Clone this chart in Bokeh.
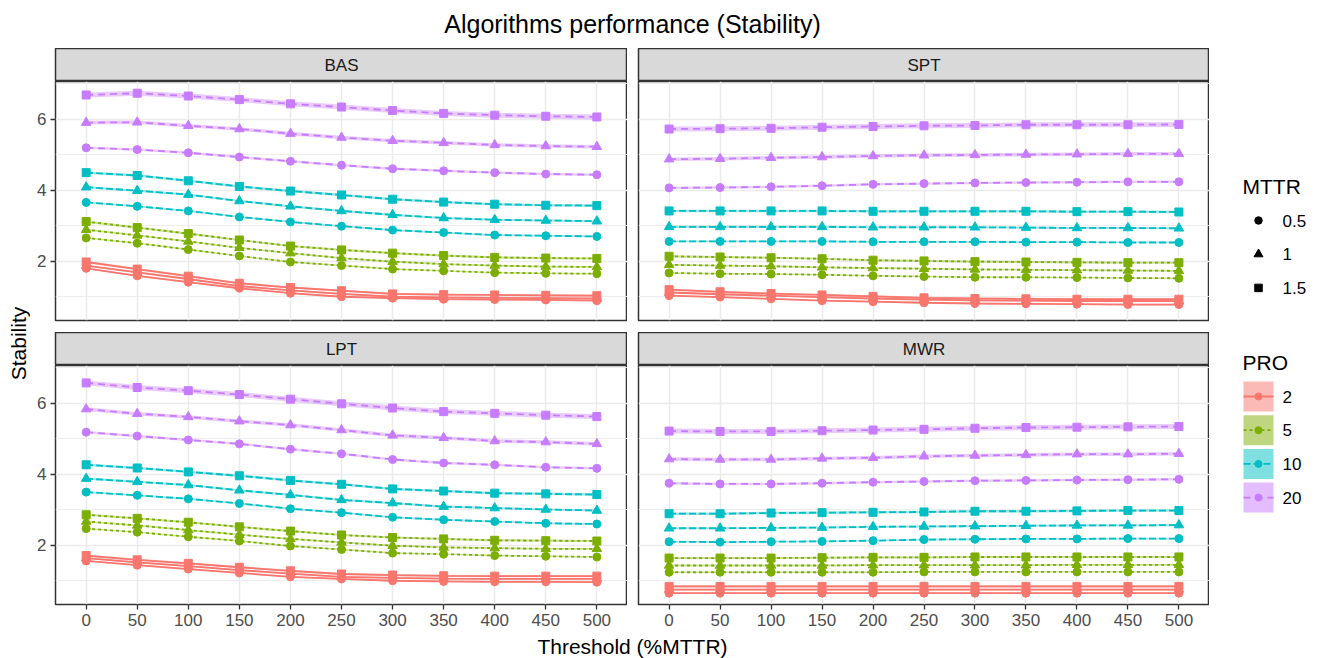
import numpy as np
from bokeh.plotting import figure
from bokeh.layouts import row, column
from bokeh.models import Range1d, FixedTicker
from bokeh.embed import file_html
from bokeh.resources import INLINE
from bokeh.core.properties import value

# ---------------- data ----------------
THRESHOLDS = [0, 50, 100, 150, 200, 250, 300, 350, 400, 450, 500]
Y_TICKS = [2, 4, 6]
Y_MINOR = [1, 3, 5, 7]
ALGORITHMS = ["BAS", "SPT", "LPT", "MWR"]
PRO_LEVELS = [2, 5, 10, 20]
PRO_LABELS = ["2", "5", "10", "20"]
MTTR_LEVELS = [0.5, 1, 1.5]
MTTR_LABELS = ["0.5", "1", "1.5"]

BAS = {
    20: {1.5: [6.69, 6.74, 6.66, 6.56, 6.44, 6.35, 6.25, 6.17, 6.12, 6.09, 6.07],
         1:   [5.91, 5.92, 5.82, 5.73, 5.60, 5.49, 5.40, 5.34, 5.28, 5.25, 5.23],
         0.5: [5.20, 5.15, 5.06, 4.94, 4.82, 4.71, 4.61, 4.55, 4.50, 4.46, 4.44]},
    10: {1.5: [4.50, 4.42, 4.27, 4.11, 3.98, 3.87, 3.75, 3.67, 3.61, 3.58, 3.57],
         1:   [4.09, 3.99, 3.88, 3.70, 3.55, 3.42, 3.31, 3.22, 3.17, 3.15, 3.13],
         0.5: [3.66, 3.55, 3.42, 3.25, 3.11, 2.99, 2.88, 2.81, 2.74, 2.72, 2.70]},
    5:  {1.5: [3.12, 2.95, 2.78, 2.60, 2.43, 2.32, 2.23, 2.16, 2.11, 2.09, 2.08],
         1:   [2.89, 2.73, 2.56, 2.38, 2.23, 2.09, 1.99, 1.92, 1.88, 1.85, 1.84],
         0.5: [2.66, 2.51, 2.33, 2.15, 1.98, 1.88, 1.78, 1.73, 1.68, 1.66, 1.65]},
    2:  {1.5: [1.98, 1.78, 1.58, 1.38, 1.26, 1.17, 1.08, 1.06, 1.05, 1.04, 1.03],
         1:   [1.88, 1.69, 1.50, 1.30, 1.18, 1.08, 1.00, 0.98, 0.97, 0.96, 0.95],
         0.5: [1.80, 1.59, 1.41, 1.24, 1.10, 1.00, 0.96, 0.93, 0.92, 0.91, 0.89]},
}
SPT = {
    20: {1.5: [5.73, 5.74, 5.75, 5.78, 5.80, 5.82, 5.83, 5.85, 5.85, 5.85, 5.86],
         1:   [4.88, 4.89, 4.92, 4.94, 4.97, 4.99, 5.00, 5.01, 5.02, 5.03, 5.03],
         0.5: [4.07, 4.08, 4.10, 4.13, 4.17, 4.19, 4.21, 4.22, 4.23, 4.24, 4.24]},
    10: {1.5: [3.42, 3.42, 3.42, 3.42, 3.41, 3.41, 3.41, 3.41, 3.40, 3.40, 3.39],
         1:   [2.97, 2.97, 2.97, 2.97, 2.96, 2.96, 2.96, 2.95, 2.94, 2.94, 2.93],
         0.5: [2.56, 2.56, 2.56, 2.56, 2.55, 2.55, 2.55, 2.54, 2.54, 2.53, 2.53]},
    5:  {1.5: [2.14, 2.12, 2.10, 2.07, 2.03, 2.01, 1.99, 1.98, 1.97, 1.96, 1.96],
         1:   [1.90, 1.88, 1.86, 1.83, 1.81, 1.79, 1.77, 1.76, 1.75, 1.74, 1.73],
         0.5: [1.67, 1.65, 1.64, 1.62, 1.59, 1.57, 1.55, 1.55, 1.54, 1.53, 1.52]},
    2:  {1.5: [1.20, 1.14, 1.09, 1.05, 1.01, 0.97, 0.95, 0.94, 0.93, 0.93, 0.93],
         1:   [1.12, 1.07, 1.03, 0.99, 0.95, 0.92, 0.90, 0.89, 0.88, 0.88, 0.88],
         0.5: [1.03, 0.99, 0.94, 0.89, 0.86, 0.83, 0.81, 0.80, 0.79, 0.78, 0.78]},
}
LPT = {
    20: {1.5: [6.58, 6.45, 6.36, 6.25, 6.12, 5.99, 5.87, 5.77, 5.72, 5.67, 5.63],
         1:   [5.84, 5.71, 5.62, 5.50, 5.39, 5.25, 5.10, 5.03, 4.94, 4.91, 4.86],
         0.5: [5.19, 5.08, 4.97, 4.86, 4.71, 4.58, 4.42, 4.32, 4.27, 4.20, 4.17]},
    10: {1.5: [4.27, 4.18, 4.07, 3.96, 3.83, 3.72, 3.59, 3.53, 3.47, 3.45, 3.43],
         1:   [3.88, 3.79, 3.70, 3.55, 3.42, 3.28, 3.19, 3.09, 3.05, 3.01, 2.98],
         0.5: [3.50, 3.41, 3.31, 3.18, 3.03, 2.92, 2.79, 2.72, 2.67, 2.62, 2.60]},
    5:  {1.5: [2.86, 2.76, 2.65, 2.52, 2.40, 2.29, 2.22, 2.18, 2.14, 2.13, 2.12],
         1:   [2.67, 2.56, 2.43, 2.30, 2.18, 2.08, 1.99, 1.94, 1.92, 1.90, 1.90],
         0.5: [2.47, 2.37, 2.24, 2.12, 1.98, 1.88, 1.78, 1.75, 1.71, 1.69, 1.67]},
    2:  {1.5: [1.71, 1.59, 1.49, 1.38, 1.28, 1.19, 1.16, 1.14, 1.13, 1.13, 1.13],
         1:   [1.64, 1.52, 1.41, 1.30, 1.20, 1.11, 1.08, 1.06, 1.05, 1.05, 1.05],
         0.5: [1.56, 1.44, 1.33, 1.22, 1.11, 1.05, 1.00, 0.98, 0.97, 0.97, 0.96]},
}
MWR = {
    20: {1.5: [5.22, 5.21, 5.21, 5.23, 5.25, 5.27, 5.30, 5.32, 5.33, 5.34, 5.35],
         1:   [4.43, 4.42, 4.42, 4.45, 4.47, 4.51, 4.53, 4.55, 4.57, 4.57, 4.58],
         0.5: [3.75, 3.73, 3.73, 3.75, 3.78, 3.80, 3.82, 3.83, 3.84, 3.85, 3.86]},
    10: {1.5: [2.89, 2.89, 2.91, 2.92, 2.93, 2.94, 2.96, 2.96, 2.97, 2.98, 2.98],
         1:   [2.48, 2.48, 2.49, 2.50, 2.52, 2.53, 2.54, 2.55, 2.56, 2.56, 2.57],
         0.5: [2.10, 2.09, 2.10, 2.11, 2.13, 2.16, 2.17, 2.18, 2.18, 2.19, 2.19]},
    5:  {1.5: [1.64, 1.64, 1.64, 1.65, 1.66, 1.66, 1.67, 1.67, 1.67, 1.67, 1.67],
         1:   [1.43, 1.43, 1.43, 1.43, 1.44, 1.44, 1.44, 1.44, 1.45, 1.45, 1.45],
         0.5: [1.24, 1.24, 1.24, 1.24, 1.24, 1.25, 1.25, 1.25, 1.25, 1.25, 1.25]},
    2:  {1.5: [0.84, 0.84, 0.84, 0.84, 0.84, 0.84, 0.84, 0.84, 0.84, 0.84, 0.84],
         1:   [0.75, 0.75, 0.75, 0.75, 0.75, 0.75, 0.75, 0.75, 0.75, 0.75, 0.75],
         0.5: [0.65, 0.65, 0.65, 0.65, 0.65, 0.65, 0.65, 0.65, 0.65, 0.65, 0.65]},
}
PANEL_DATA = {"BAS": BAS, "SPT": SPT, "LPT": LPT, "MWR": MWR}

# ribbon half-width (uncertainty band) per PRO level, listed in MTTR order
RIBBON = {2: [0.02, 0.025, 0.03], 5: [0.02, 0.025, 0.03],
          10: [0.025, 0.03, 0.035], 20: [0.035, 0.05, 0.07]}

# ---------------- style ----------------
FONT = "Liberation Sans"
COLORS = ["#F8766D", "#7CAE00", "#00BFC4", "#C77CFF"]
DASHES = ["solid", "3 3", "7 3", "7 5"]
MARKERS = ["circle", "triangle", "square"]
MSIZES = [8, 9.5, 8]
X_RANGE = (-30, 530)
Y_RANGE = (0.33, 7.07)
BORDER = "#333333"
GRID = "#EBEBEB"
SMALL = "17px"
MEDIUM = "21px"


def base_fig(**kw):
    opts = dict(output_backend="svg", toolbar_location=None,
                min_border_left=0, min_border_right=0,
                min_border_top=0, min_border_bottom=0,
                x_axis_location=None, y_axis_location=None)
    opts.update(kw)
    p = figure(**opts)
    p.border_fill_color = "white"
    return p


def style_axis(ax):
    ax.axis_line_color = None
    ax.major_tick_line_color = BORDER
    ax.major_tick_line_width = 1.3
    ax.major_tick_out = 5
    ax.major_tick_in = 0
    ax.minor_tick_out = 0
    ax.minor_tick_in = 0
    ax.major_label_text_font = FONT
    ax.major_label_text_font_size = SMALL
    ax.major_label_text_color = "#4D4D4D"
    ax.major_label_standoff = 4


def panel(name, left, bottom):
    p = base_fig(frame_width=572 if left else 571, frame_height=239,
                 x_range=Range1d(*X_RANGE), y_range=Range1d(*Y_RANGE),
                 min_border_left=25 if left else 11,
                 min_border_bottom=30 if bottom else 12,
                 x_axis_location="below" if bottom else None,
                 y_axis_location="left" if left else None)
    p.background_fill_color = "white"
    p.outline_line_color = BORDER
    p.outline_line_width = 1.5
    p.xgrid.ticker = FixedTicker(ticks=THRESHOLDS)
    p.xgrid.grid_line_color = GRID
    p.xgrid.grid_line_width = 1.5
    p.ygrid.ticker = FixedTicker(ticks=Y_TICKS, minor_ticks=Y_MINOR)
    p.ygrid.grid_line_color = GRID
    p.ygrid.grid_line_width = 1.5
    p.ygrid.minor_grid_line_color = GRID
    p.ygrid.minor_grid_line_width = 0.9
    if bottom:
        p.xaxis.ticker = FixedTicker(ticks=THRESHOLDS)
        style_axis(p.xaxis[0])
        p.xaxis.major_label_standoff = 4
    if left:
        p.yaxis.ticker = FixedTicker(ticks=Y_TICKS, minor_ticks=Y_MINOR)
        style_axis(p.yaxis[0])

    data = PANEL_DATA[name]
    x = np.array(THRESHOLDS, dtype=float)
    for i, pro in enumerate(PRO_LEVELS):
        for j, m in enumerate(MTTR_LEVELS):
            y = np.array(data[pro][m])
            hw = RIBBON[pro][j]
            p.varea(x=x, y1=y - hw, y2=y + hw, fill_color=COLORS[i], fill_alpha=0.4)
    for i, pro in enumerate(PRO_LEVELS):
        for j, m in enumerate(MTTR_LEVELS):
            p.line(x, data[pro][m], line_color=COLORS[i], line_width=1.8,
                   line_dash=DASHES[i])
    for i, pro in enumerate(PRO_LEVELS):
        for j, m in enumerate(MTTR_LEVELS):
            p.scatter(x, data[pro][m], marker=MARKERS[j], size=MSIZES[j],
                      fill_color=COLORS[i], line_color=COLORS[i])
    return p


def strip(name, left):
    s = base_fig(frame_width=572 if left else 571, frame_height=33,
                 x_range=Range1d(0, 1), y_range=Range1d(0, 1),
                 min_border_left=25 if left else 11)
    s.grid.visible = False
    s.background_fill_color = "#D9D9D9"
    s.outline_line_color = BORDER
    s.outline_line_width = 1.5
    s.text(x=[0.5], y=[0.5], text=[name], text_align="center",
           text_baseline="middle", text_font=value(FONT),
           text_font_size=SMALL, text_color="#1A1A1A")
    return s


# ---------------- panels ----------------
bas = panel("BAS", True, False)
spt = panel("SPT", False, False)
lpt = panel("LPT", True, True)
mwr = panel("MWR", False, True)

left_col = column(strip("BAS", True), bas, strip("LPT", True), lpt, spacing=0)
right_col = column(strip("SPT", False), spt, strip("MWR", False), mwr, spacing=0)

# ---------------- title / axis titles (page pixel coordinates) ----------------
title_fig = base_fig(width=1320, height=48, x_range=Range1d(0, 1320),
                     y_range=Range1d(48, 0))
title_fig.grid.visible = False
title_fig.outline_line_color = None
title_fig.text(x=[632], y=[23], text=["Algorithms performance (Stability)"],
               text_align="center", text_baseline="middle",
               text_font=value(FONT), text_font_size="25px", text_color="black")

ylab_fig = base_fig(width=30, height=586, x_range=Range1d(0, 30),
                    y_range=Range1d(634, 48))
ylab_fig.grid.visible = False
ylab_fig.outline_line_color = None
ylab_fig.text(x=[18], y=[343], text=["Stability"], angle=np.pi / 2,
              text_align="center", text_baseline="middle",
              text_font=value(FONT), text_font_size=MEDIUM, text_color="black")

xlab_fig = base_fig(width=1320, height=24, x_range=Range1d(0, 1320),
                    y_range=Range1d(658, 634))
xlab_fig.grid.visible = False
xlab_fig.outline_line_color = None
xlab_fig.text(x=[632], y=[646], text=["Threshold (%MTTR)"],
              text_align="center", text_baseline="middle",
              text_font=value(FONT), text_font_size=MEDIUM, text_color="black")

# ---------------- legend ----------------
leg = base_fig(width=111, height=586, x_range=Range1d(1209, 1320),
               y_range=Range1d(634, 48))
leg.grid.visible = False
leg.outline_line_color = None
KEY_X = 1258
KEY_W = 30
PITCH = 33.7
LABEL_X = 1282
TITLE_X = 1242

mttr_title_y = 186
mttr_y = [mttr_title_y + 34 + PITCH * k for k in range(len(MTTR_LEVELS))]
leg.text(x=[TITLE_X], y=[mttr_title_y], text=["MTTR"], text_baseline="middle",
         text_font=value(FONT), text_font_size=MEDIUM, text_color="black")
for k, lab in enumerate(MTTR_LABELS):
    leg.scatter([KEY_X], [mttr_y[k]], marker=MARKERS[k], size=MSIZES[k] - 0.5,
                fill_color="black", line_color="black")
leg.text(x=[LABEL_X] * 3, y=mttr_y, text=MTTR_LABELS, text_baseline="middle",
         text_font=value(FONT), text_font_size=SMALL, text_color="black")

pro_title_y = 362
pro_y = [pro_title_y + 34 + PITCH * k for k in range(len(PRO_LEVELS))]
leg.text(x=[TITLE_X], y=[pro_title_y], text=["PRO"], text_baseline="middle",
         text_font=value(FONT), text_font_size=MEDIUM, text_color="black")
for k, lab in enumerate(PRO_LABELS):
    leg.rect([KEY_X], [pro_y[k]], width=KEY_W, height=30, fill_color=COLORS[k],
             fill_alpha=0.5, line_color=None)
    leg.line([KEY_X - KEY_W / 2, KEY_X + KEY_W / 2], [pro_y[k], pro_y[k]],
             line_color=COLORS[k], line_width=1.8, line_dash=DASHES[k])
    leg.scatter([KEY_X], [pro_y[k]], marker="circle", size=7,
                fill_color=COLORS[k], line_color=COLORS[k])
leg.text(x=[LABEL_X] * 4, y=pro_y, text=PRO_LABELS, text_baseline="middle",
         text_font=value(FONT), text_font_size=SMALL, text_color="black")

layout = column(
    title_fig,
    row(ylab_fig, left_col, right_col, leg, spacing=0),
    xlab_fig,
    spacing=0,
)

open("out.html", "w").write(file_html(layout, INLINE))
